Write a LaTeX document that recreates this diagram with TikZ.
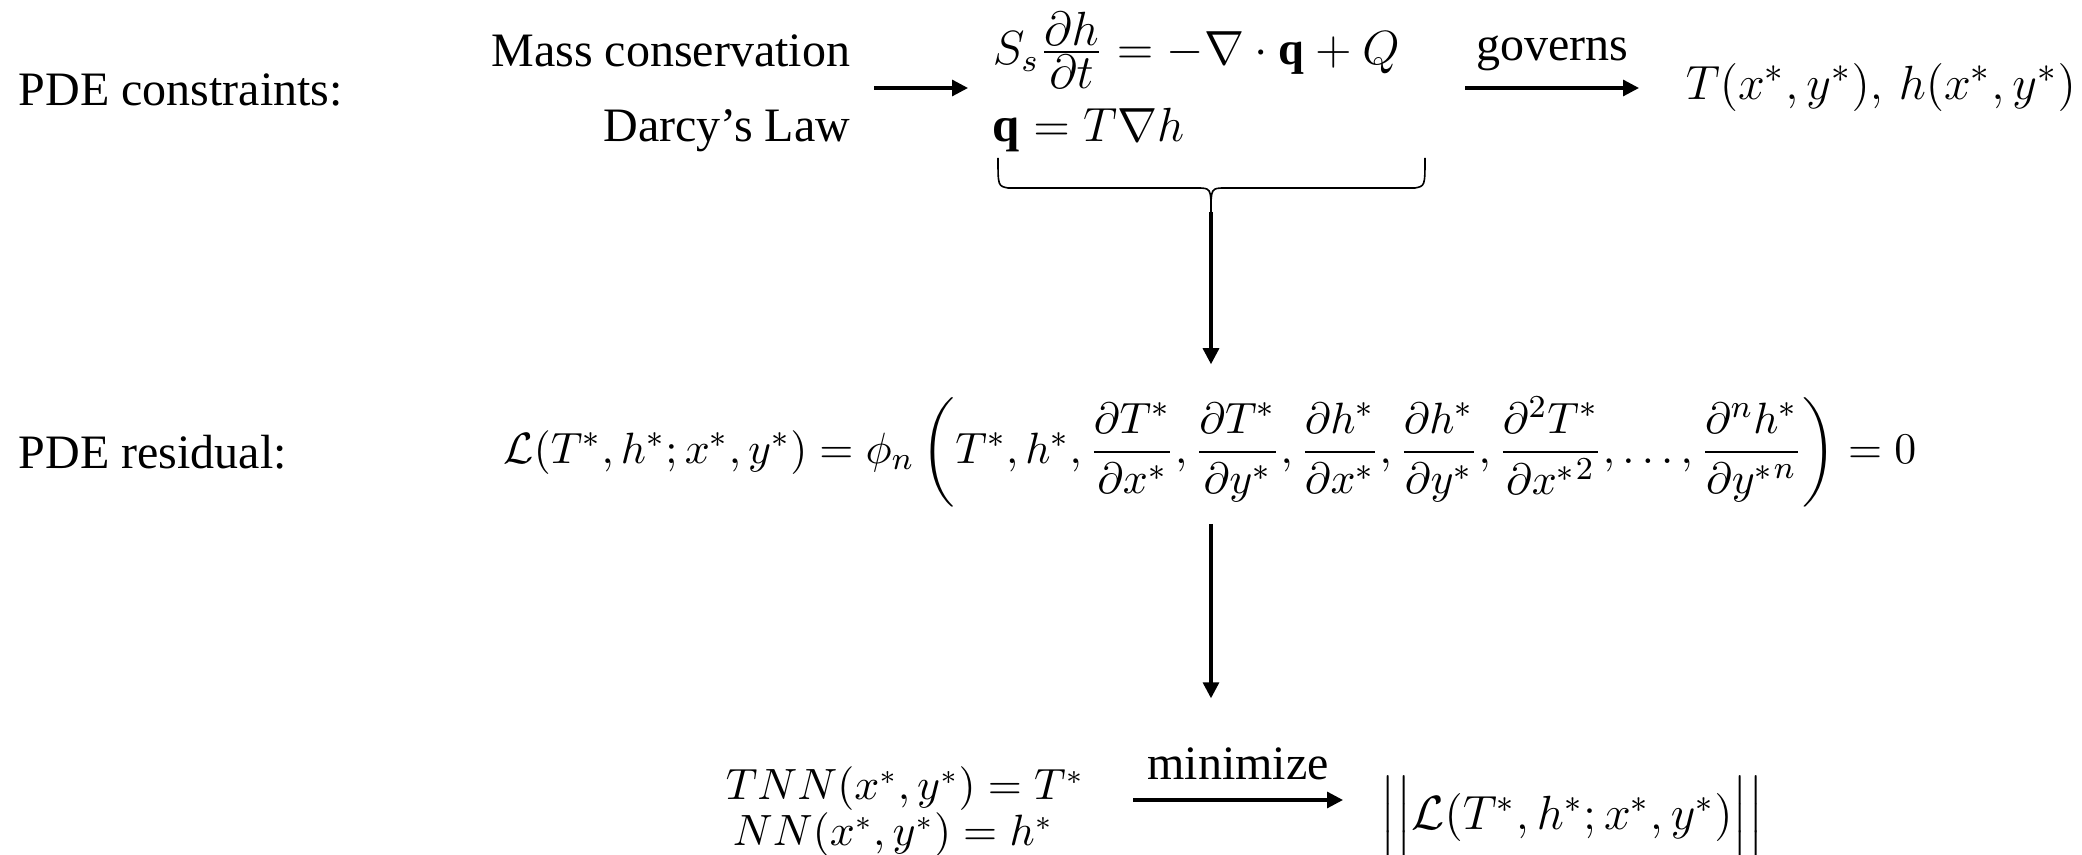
\documentclass[tikz,border=0pt]{standalone}
\usepackage{amsmath, amssymb}
\usepackage{fontspec}
\setmainfont{Liberation Serif}
\usepackage{tikz}
\usetikzlibrary{arrows.meta, positioning, calc}

\begin{document}
\begin{tikzpicture}[>={Triangle[length=4pt, width=4pt]}, x=0.25pt, y=-0.25pt,
  every node/.style={font=\fontsize{12}{14}\selectfont, inner sep=1pt},
  eq/.style={font=\fontsize{12.2}{14}\selectfont},
  flow/.style={->, line width=0.8pt}]
  \useasboundingbox (0,0) rectangle (2082,855);
  % Row labels
  \foreach \y/\lbl/\nm in {90/{PDE constraints:}/rowc, 452/{PDE residual:}/rowr}
    \node[anchor=west] (\nm) at (14,\y) {\lbl};
  % Constraints
  \node[anchor=base east] (mass) at (855,67) {Mass conservation};
  \node[anchor=base east] (darcy) at (855,142) {Darcy's Law};
  \coordinate (lawsE) at (874,88);
  \coordinate (eqsW) at (968,88);
  \draw[flow] (lawsE) -- (eqsW);
  \node[eq, anchor=west, font=\fontsize{11.6}{14}\selectfont] (cons) at (988,50)
    {$S_s\frac{\textstyle\partial h}{\textstyle\partial t} = -\nabla\cdot\mathbf{q} + Q$};
  \node[eq, anchor=west] (flux) at (988,130) {$\mathbf{q} = T\nabla h$};
  \coordinate (gstart) at (1465,88);
  \coordinate (gend) at (1639,88);
  \node[eq, anchor=west, font=\fontsize{13}{14}\selectfont] (tval) at (1681,88)
    {$T(x^*,y^*),\, h(x^*,y^*)$};
  \draw[flow] (gstart) -- node[above=3pt] {governs} (gend);
  % brace under the two laws
  \draw[line width=0.4pt] (998,158) .. controls (998,186) .. (1008,188) -- (1196,188)
    .. controls (1211,188) .. (1211,212) .. controls (1211,188) .. (1226,188)
    -- (1415,188) .. controls (1425,186) .. (1425,158);
  \coordinate (btip) at (1211,212);
  % Residual
  \node[eq, font=\fontsize{11.4}{14}\selectfont] (resid) at (1210,452)
    {$\mathcal{L}(T^*,h^*;x^*,y^*) = \phi_n\left(T^*,h^*,\dfrac{\partial T^*}{\partial x^*},
      \dfrac{\partial T^*}{\partial y^*},\dfrac{\partial h^*}{\partial x^*},
      \dfrac{\partial h^*}{\partial y^*},\dfrac{\partial^2 T^*}{\partial {x^*}^2},\ldots,
      \dfrac{\partial^n h^*}{\partial {y^*}^n}\right) = 0$};
  \draw[flow, shorten >=7pt] (btip) -- (btip |- resid.north);
  % Training objective
  \node[eq, font=\fontsize{10.5}{12}\selectfont] (tnn) at (905,789) {$TNN(x^*,y^*) = T^*$};
  \node[eq, font=\fontsize{10.5}{12}\selectfont] (nn) at (893,835) {$NN(x^*,y^*) = h^*$};
  \draw[flow, shorten <=3pt, shorten >=16pt] (btip |- resid.south) -- (btip |- tnn.north);
  \coordinate (mstart) at (1133,800);
  \coordinate (mend) at (1343,800);
  \node[eq, anchor=west, font=\fontsize{11.5}{14}\selectfont] (resnorm) at (1376,818)
    {$\Big|\Big|\mathcal{L}(T^*,h^*;x^*,y^*)\Big|\Big|$};
  \draw[flow] (mstart) -- node[above=3.5pt] {minimize} (mend);
\end{tikzpicture}
\end{document}
